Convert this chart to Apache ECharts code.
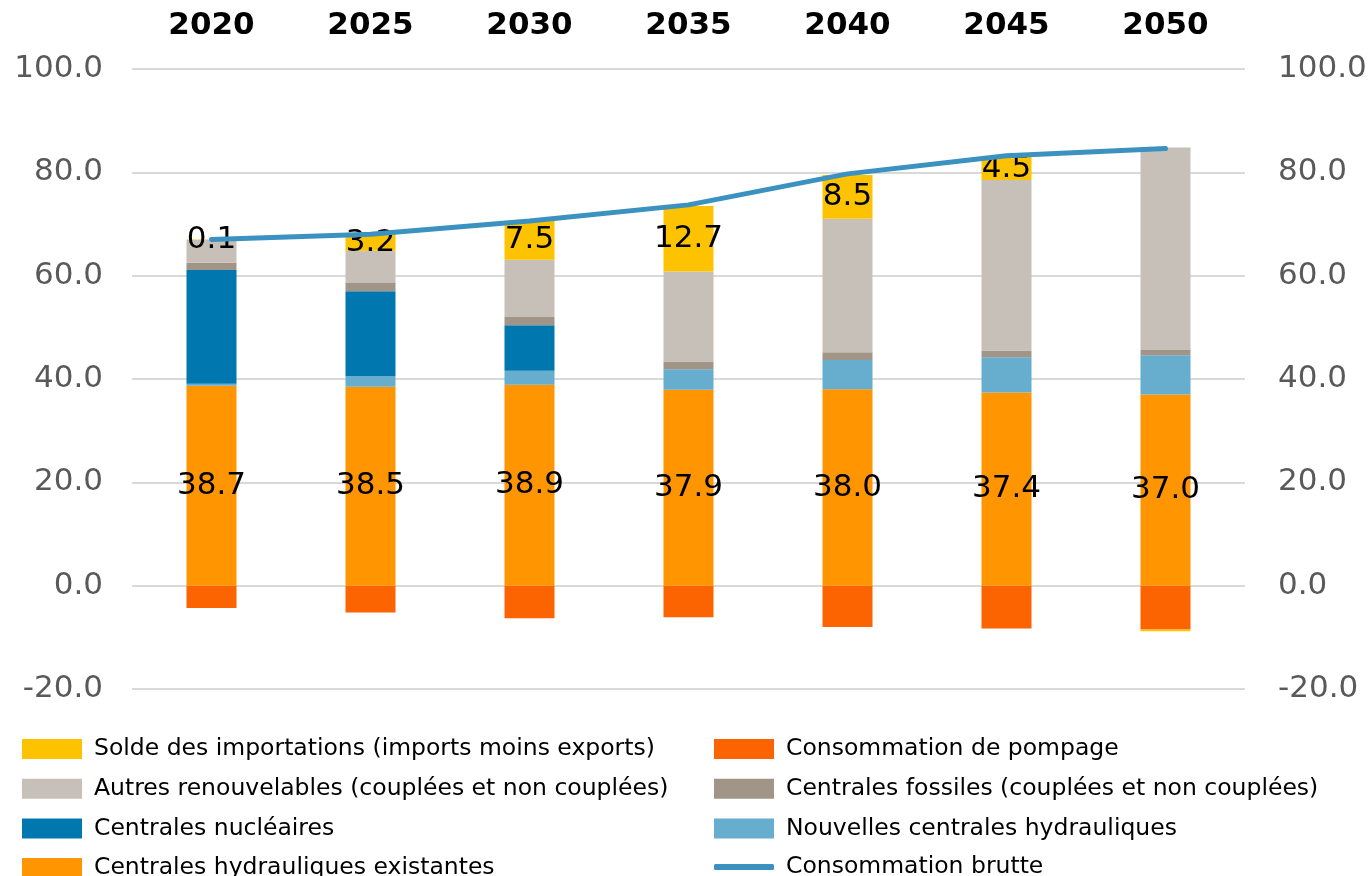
<!DOCTYPE html>
<html>
<head>
<meta charset="utf-8">
<script src="https://cdn.jsdelivr.net/npm/echarts@6/dist/echarts.min.js"></script>
<style>
  html, body { margin: 0; padding: 0; background: #fff; }
  #chart { width: 1371px; height: 876px; }
</style>
</head>
<body>
<div id="chart"></div>
<script>
// years along the top axis
var years = ['2020', '2025', '2030', '2035', '2040', '2045', '2050']

// stacked production (TWh)
var hydroExistantes = [38.7, 38.5, 38.9, 37.9, 38.0, 37.4, 37.0]
var hydroNouvelles = [0.4, 2.1, 2.7, 4.0, 5.7, 6.8, 7.6]
var nucleaires = [22.0, 16.4, 8.8, 0, 0, 0, 0]
var fossiles = [1.4, 1.6, 1.6, 1.5, 1.5, 1.3, 1.0]
var autresRenouv = [4.4, 6.2, 11.1, 17.4, 25.8, 33.0, 39.2]
var soldeImport = [0.1, 3.2, 7.5, 12.7, 8.5, 4.5, -0.3]
var pompage = [-4.3, -5.2, -6.3, -6.1, -8.0, -8.3, -8.5]
var consoBrutte = [67.0, 68.0, 70.6, 73.7, 79.7, 83.2, 84.6]

var FONT = '"DejaVu Sans", Verdana, sans-serif'

var chart = echarts.init(document.getElementById('chart'))

function barSeries(name, data, color, label) {
    var s = {
        name: name,
        type: 'bar',
        stack: 'total',
        barWidth: 50,
        data: data,
        itemStyle: { color: color },
        emphasis: { disabled: true },
    }
    if (label) {
        s.label = {
            show: true,
            position: 'inside',
            color: '#000',
            fontFamily: FONT,
            fontSize: 31,
            formatter: function (p) {
                return p.value > 0 ? p.value.toFixed(1) : ''
            },
        }
    }
    return s
}

var axisLabelY = {
    color: '#595959',
    fontFamily: FONT,
    fontSize: 31,
    margin: 29,
    formatter: function (v) {
        return v.toFixed(1)
    },
}

var legendText = { color: '#000', fontFamily: FONT, fontSize: 23.5, lineHeight: 20, padding: [0, 0, 0, 7] }

function legendBlock(left, top, items, iconHeight, icon) {
    return {
        orient: 'vertical',
        left: left,
        top: top,
        height: 160,
        padding: 0,
        itemWidth: 60,
        itemHeight: iconHeight,
        itemGap: 15.7,
        icon: icon,
        textStyle: legendText,
        data: items,
    }
}

var option = {
    animation: false,
    grid: { left: 132, right: 126, top: 69, bottom: 187 },
    xAxis: {
        type: 'category',
        position: 'top',
        data: years,
        axisLine: { show: false },
        axisTick: { show: false },
        axisLabel: { color: '#000', fontFamily: FONT, fontSize: 31, fontWeight: 'bold', margin: 28 },
    },
    yAxis: [
        {
            type: 'value',
            min: -20,
            max: 100,
            interval: 20,
            axisLine: { show: false },
            axisTick: { show: false },
            splitLine: { lineStyle: { color: '#d9d9d9', width: 2 } },
            axisLabel: axisLabelY,
        },
        {
            type: 'value',
            min: -20,
            max: 100,
            interval: 20,
            position: 'right',
            axisLine: { show: false },
            axisTick: { show: false },
            splitLine: { show: false },
            axisLabel: Object.assign({}, axisLabelY, { margin: 33 }),
        },
    ],
    legend: [
        legendBlock(22, 737, [
            'Solde des importations (imports moins exports)',
            'Autres renouvelables (couplées et non couplées)',
            'Centrales nucléaires',
            'Centrales hydrauliques existantes',
        ], 20, 'rect'),
        legendBlock(714, 737, [
            'Consommation de pompage',
            'Centrales fossiles (couplées et non couplées)',
            'Nouvelles centrales hydrauliques',
        ], 20, 'rect'),
        legendBlock(714, 855, ['Consommation brutte'], 6, 'roundRect'),
    ],
    series: [
        barSeries('Consommation de pompage', pompage, '#fb6400'),
        barSeries('Centrales hydrauliques existantes', hydroExistantes, '#ff9500', true),
        barSeries('Nouvelles centrales hydrauliques', hydroNouvelles, '#67adce'),
        barSeries('Centrales nucléaires', nucleaires, '#0077ae'),
        barSeries('Centrales fossiles (couplées et non couplées)', fossiles, '#a09587'),
        barSeries('Autres renouvelables (couplées et non couplées)', autresRenouv, '#c7c0b9'),
        barSeries('Solde des importations (imports moins exports)', soldeImport, '#fdc300', true),
        {
            name: 'Consommation brutte',
            type: 'line',
            data: consoBrutte,
            symbol: 'none',
            lineStyle: { color: '#3b92c0', width: 5, cap: 'round' },
            itemStyle: { color: '#3b92c0' },
            z: 5,
        },
    ],
}

chart.setOption(option)
</script>
</body>
</html>
